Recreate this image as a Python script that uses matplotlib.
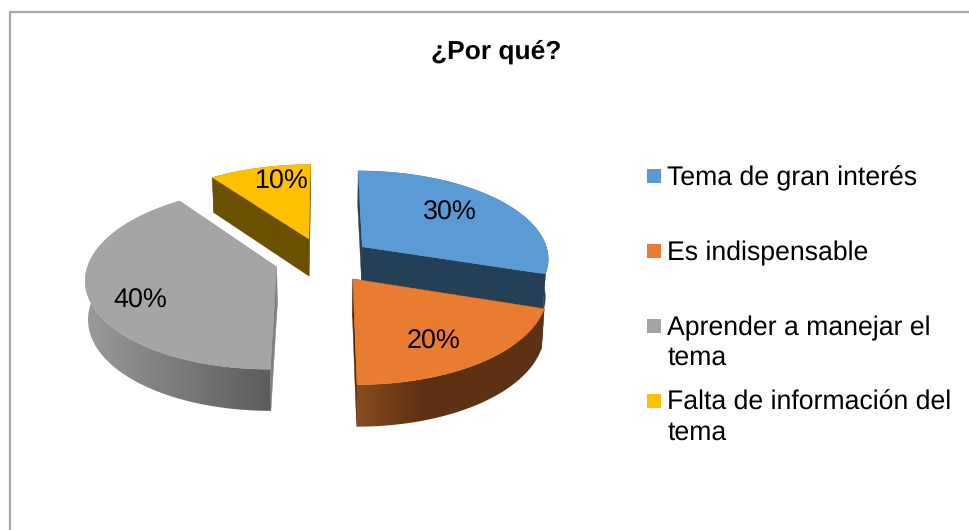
import numpy as np
import matplotlib
matplotlib.use("Agg")
import matplotlib.pyplot as plt
from matplotlib.colors import to_rgb
from matplotlib.patches import Polygon, Rectangle

TITLE = "¿Por qué?"
categories = ["Tema de gran interés", "Es indispensable",
              "Aprender a manejar el\ntema", "Falta de información del\ntema"]
values = [30, 20, 40, 10]
value_labels = ["30%", "20%", "40%", "10%"]

top_colors = ["#5B9BD5", "#E97C30", "#A5A5A5", "#FFC000"]
face_colors = ["#243F56", "#5A2D10", "#808080", "#6B5000"]
wall_left = ["#243F56", "#874B1F", "#9A9A9A", "#6B5000"]
wall_right = ["#243F56", "#5E3113", "#5C5C5C", "#6B5000"]
wall_ramp_end = [1.0, 0.35, 1.0, 1.0]
label_xy = [(450, 212.5), (434, 341.5), (140, 300.5), (282, 181.5)]
legend_y = [176, 251, 326, 401]

CX, CY, A, B, K, EXPLODE = 323.5, 260, 187.5, 88, 0.12, 0.26
DEPTH, DEPTH_K, BASE_SHRINK = 38, 0.08, 0.988

plt.rcParams["font.family"] = ["Liberation Sans", "DejaVu Sans"]
plt.rcParams["text.hinting"] = "no_hinting"
fig = plt.figure(figsize=(9.7, 5.3), dpi=100)
ax = fig.add_axes([0, 0, 1, 1])
ax.axis("off")


def project(u, v, bottom=False):
    w = 1 + K * v
    x = CX + A * u / w
    y = CY - B * v / w
    if bottom:
        x = CX + (x - CX) * BASE_SHRINK
        y = y + DEPTH / (1 + DEPTH_K * v)
    return np.column_stack([x, y])


ax.add_patch(Rectangle((10.5, 11.5), 1100, 900, fc="white", ec="#A6A6A6", lw=1.6, zorder=0))

fractions = np.array(values) / sum(values)
stops = np.concatenate([[0], np.cumsum(fractions)]) * 2 * np.pi
for order, i in enumerate([3, 0, 2, 1]):
    z = 1 + order
    a0, a1 = stops[i], stops[i + 1]
    mid = (a0 + a1) / 2
    ou, ov = EXPLODE * np.sin(mid), EXPLODE * np.cos(mid)
    t = np.linspace(a0, a1, 121)
    u, v = ou + np.sin(t), ov + np.cos(t)
    ap_u, ap_v = np.array([ou]), np.array([ov])
    top_arc, bot_arc = project(u, v), project(u, v, True)
    top_ap, bot_ap = project(ap_u, ap_v), project(ap_u, ap_v, True)
    # radial faces
    for rim in (0, -1):
        quad = np.vstack([top_ap, top_arc[rim], bot_arc[rim], bot_ap])
        ax.add_patch(Polygon(quad, fc=face_colors[i], ec=face_colors[i], lw=0.3, zorder=z))
    # outer wall, shaded along screen x
    wall = Polygon(np.vstack([top_arc, bot_arc[::-1]]), fc="none", ec="none", zorder=z)
    ax.add_patch(wall)
    xmin = min(top_arc[:, 0].min(), bot_arc[:, 0].min())
    xmax = max(top_arc[:, 0].max(), bot_arc[:, 0].max())
    ramp = np.clip(np.linspace(0, 1, 256) / wall_ramp_end[i], 0, 1)[None, :, None]
    img = np.array(to_rgb(wall_left[i])) * (1 - ramp) + np.array(to_rgb(wall_right[i])) * ramp
    im = ax.imshow(img, extent=(xmin, xmax, 530, 0), aspect="auto", zorder=z + 0.1)
    im.set_clip_path(wall)
    # top surface
    ax.add_patch(Polygon(np.vstack([top_ap, top_arc]), fc=top_colors[i],
                         ec=top_colors[i], lw=0.3, zorder=z + 0.2))
    ax.text(*label_xy[i], value_labels[i], fontsize=19.4, color="black",
            ha="center", va="center", zorder=10)

ax.set_xlim(0, 970)
ax.set_ylim(530, 0)

ax.text(496.5, 51.5, TITLE, fontsize=19, fontweight="bold", ha="center", va="center")

for name, col, y in zip(categories, top_colors, legend_y):
    ax.add_patch(Rectangle((647, y - 7), 14, 14, fc=col, ec="none"))
    for k, line in enumerate(name.split("\n")):
        ax.text(667.5, y + 9 + 30 * k, line, fontsize=19.2, color="black",
                ha="left", va="baseline")

fig.savefig("out.png", dpi=100, facecolor="white")
